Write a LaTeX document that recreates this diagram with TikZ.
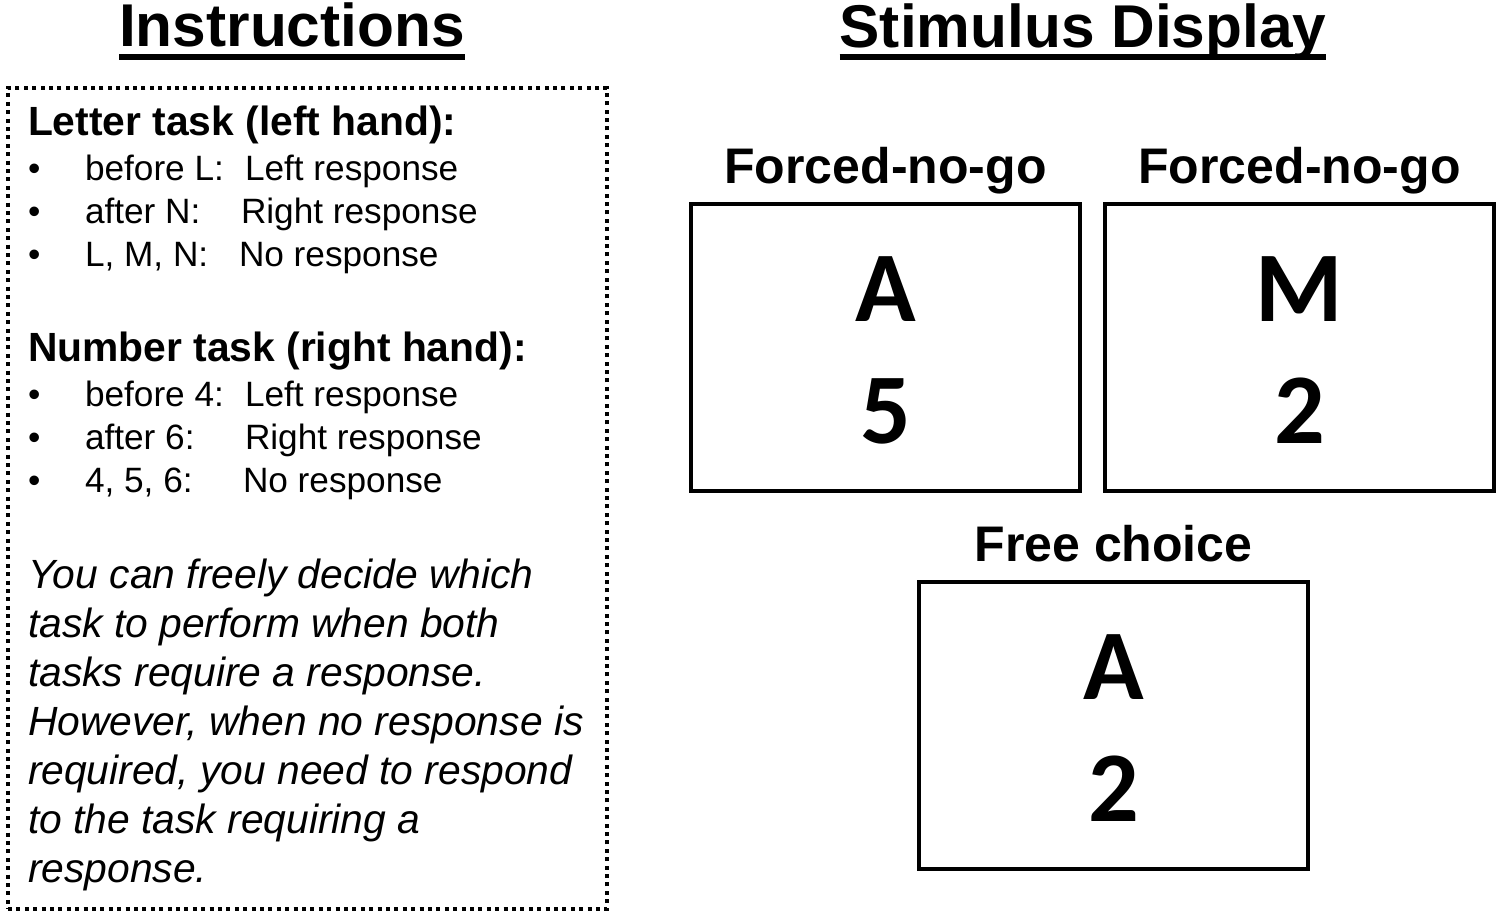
\documentclass[tikz,border=0pt]{standalone}
\usepackage{fontspec}
\setmainfont{Liberation Sans}
\newfontfamily\stimfont{Carlito}
\usepackage{tikz}
\usetikzlibrary{positioning}
\definecolor{ink}{HTML}{000000}
\tikzset{
  every node/.style={text=ink,inner sep=0pt,outer sep=0pt},
  title/.style={font=\fontsize{30.2}{36}\selectfont\bfseries,anchor=base},
  uline/.style={line width=2.8pt,draw=ink},
  taskhead/.style={font=\fontsize{20.4}{24}\selectfont\bfseries,anchor=base west},
  item/.style={font=\fontsize{17.6}{21}\selectfont,anchor=base west},
  note/.style={font=\fontsize{20.4}{24}\selectfont\itshape,anchor=base west},
  frame/.style={draw=ink,line width=2pt,dash pattern=on 2pt off 2.2pt,minimum width=299.5pt,minimum height=410.5pt},
  cond/.style={font=\fontsize{25}{30}\selectfont\bfseries,anchor=base},
  stimbox/.style={draw=ink,line width=2pt,minimum width=194.5pt,minimum height=143.5pt},
  stim/.style={font=\fontsize{50}{60}\selectfont\stimfont\bfseries,anchor=base}
}
\begin{document}
\begin{tikzpicture}[x=0.5pt,y=-0.5pt]
  \useasboundingbox (0,0) rectangle (1499,917);

  % headings
  \node[title] (instr) at (292,46) {Instructions};
  \node[title] (display) at (1083,47) {Stimulus Display};
  \draw[uline] ([yshift=-5.5pt]instr.base west) -- ([yshift=-5.5pt]instr.base east);
  \draw[uline] ([yshift=-5pt]display.base west) -- ([yshift=-5pt]display.base east);

  % instructions panel
  \node[frame] (panel) at (307.5,498.5) {};
  \node[taskhead] (letter) at (28,135) {Letter task (left hand):};
  \node[item] (b1) at (28,180) {\textbullet};
  \node[item] (l1) at (85,180) {before L:};
  \node[item] (r1) at (245,180) {Left response};
  \node[item] (b2) at (28,223) {\textbullet};
  \node[item] (l2) at (85,223) {after N:};
  \node[item] (r2) at (241,223) {Right response};
  \node[item] (b3) at (28,266) {\textbullet};
  \node[item] (l3) at (85,266) {L, M, N:};
  \node[item] (r3) at (239,266) {No response};

  \node[taskhead] (number) at (28,361) {Number task (right hand):};
  \node[item] (b4) at (28,406) {\textbullet};
  \node[item] (l4) at (85,406) {before 4:};
  \node[item] (r4) at (245,406) {Left response};
  \node[item] (b5) at (28,449) {\textbullet};
  \node[item] (l5) at (85,449) {after 6:};
  \node[item] (r5) at (245,449) {Right response};
  \node[item] (b6) at (28,492) {\textbullet};
  \node[item] (l6) at (85,492) {4, 5, 6:};
  \node[item] (r6) at (243,492) {No response};

  \node[note] (n1) at (28,588) {You can freely decide which};
  \node[note] (n2) at (28,637) {task to perform when both};
  \node[note] (n3) at (28,686) {tasks require a response.};
  \node[note] (n4) at (28,735) {However, when no response is};
  \node[note] (n5) at (28,784) {required, you need to respond};
  \node[note] (n6) at (28,833) {to the task requiring a};
  \node[note] (n7) at (28,882) {response.};

  % stimulus displays
  \node[cond] (c1) at (885.5,183) {Forced-no-go};
  \node[cond] (c2) at (1299.5,183) {Forced-no-go};
  \node[cond] (c3) at (1113.5,561) {Free choice};
  \node[stimbox] (s1) at (885.5,347.5) {};
  \node[stimbox] (s2) at (1299.5,347.5) {};
  \node[stimbox] (s3) at (1113.5,725.5) {};
  \node[stim] (s1a) at (885.5,321) {A};
  \node[stim] (s1b) at (885.5,443) {5};
  \node[stim] (s2a) at (1299.5,321) {M};
  \node[stim] (s2b) at (1299.5,443) {2};
  \node[stim] (s3a) at (1113.5,699) {A};
  \node[stim] (s3b) at (1113.5,821) {2};
\end{tikzpicture}
\end{document}
